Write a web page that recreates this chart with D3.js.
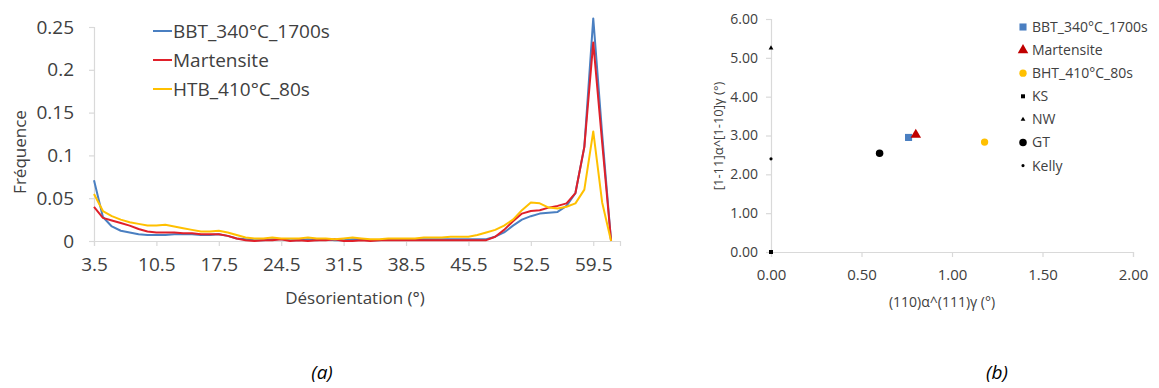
<!DOCTYPE html>
<html><head><meta charset="utf-8">
<script src="https://cdn.jsdelivr.net/npm/d3@7"></script>
<style>body{margin:0;background:#fff}svg{display:block}</style>
</head><body>
<svg id="c" width="1159" height="388"></svg>
<script>
// ---- Chart (a) data ----
const categories = [3.5,4.5,5.5,6.5,7.5,8.5,9.5,10.5,11.5,12.5,13.5,14.5,15.5,16.5,17.5,18.5,19.5,20.5,21.5,22.5,23.5,24.5,25.5,26.5,27.5,28.5,29.5,30.5,31.5,32.5,33.5,34.5,35.5,36.5,37.5,38.5,39.5,40.5,41.5,42.5,43.5,44.5,45.5,46.5,47.5,48.5,49.5,50.5,51.5,52.5,53.5,54.5,55.5,56.5,57.5,58.5,59.5,60.5,61.5];
const xTickLabels = [3.5,10.5,17.5,24.5,31.5,38.5,45.5,52.5,59.5];
const yTicksA = [0,0.05,0.1,0.15,0.2,0.25];
const bbt = [0.071,0.028,0.017,0.012,0.010,0.008,0.007,0.007,0.007,0.008,0.008,0.008,0.007,0.007,0.008,0.006,0.003,0.002,0.001,0.001,0.002,0.002,0.001,0.001,0.002,0.001,0.002,0.001,0.001,0.002,0.002,0.001,0.001,0.002,0.002,0.002,0.002,0.002,0.002,0.002,0.002,0.002,0.002,0.002,0.002,0.005,0.010,0.018,0.025,0.029,0.032,0.033,0.034,0.041,0.056,0.110,0.260,0.125,0];
const mart = [0.040,0.027,0.024,0.021,0.018,0.014,0.011,0.010,0.010,0.010,0.009,0.009,0.008,0.008,0.008,0.006,0.003,0.001,0.000,0.001,0.001,0.002,0.000,0.001,0.000,0.001,0.001,0.002,0.000,0.000,0.001,0.000,0.001,0.001,0.001,0.001,0.001,0.001,0.001,0.001,0.001,0.001,0.001,0.001,0.001,0.005,0.013,0.023,0.032,0.035,0.036,0.039,0.041,0.044,0.056,0.110,0.232,0.115,0];
const htb = [0.055,0.035,0.029,0.025,0.022,0.020,0.018,0.018,0.019,0.017,0.015,0.013,0.011,0.011,0.012,0.010,0.007,0.004,0.003,0.003,0.004,0.003,0.003,0.003,0.004,0.003,0.003,0.002,0.003,0.004,0.003,0.002,0.002,0.003,0.003,0.003,0.003,0.004,0.004,0.004,0.005,0.005,0.005,0.007,0.010,0.013,0.018,0.025,0.036,0.045,0.044,0.039,0.038,0.040,0.044,0.060,0.128,0.045,0];
const seriesNamesA = ["BBT_340°C_1700s","Martensite","HTB_410°C_80s"];
const seriesColorsA = ["#4a7fc1","#e0202a","#ffc000"];

// ---- Chart (b) data ----
const scatterNames = ["BBT_340°C_1700s","Martensite","BHT_410°C_80s","KS","NW","GT","Kelly"];
const scatterX = [0.76,0.80,1.18,0,0,0.60,0];
const scatterY = [2.95,3.02,2.83,0,5.25,2.54,2.40];
const scatterShape = ["square","triangle","circle","square","triangle","circle","circle"];
const scatterSize = [50,48,42,16,10,44,8];
const scatterColors = ["#4a7fc1","#c00000","#ffc000","#000","#000","#000","#000"];
const xTicksB = [0,0.5,1,1.5,2];
const yTicksB = [0,1,2,3,4,5,6];

const svg = d3.select("#c");
const FONT = "'Open Sans', 'Noto Sans', sans-serif";
const axisCol = "#d9d9d9";
const textCol = "#404040";

// ===== Chart (a) =====
const xa = d3.scaleLinear().domain([3.5, 62.5]).range([94, 620]);
const ya = d3.scaleLinear().domain([0, 0.25]).range([241, 27]);
const ga = svg.append("g");

const yAxA = ga.append("g").attr("transform", `translate(${xa(3.5)},0)`)
  .call(d3.axisLeft(ya).tickValues(yTicksA).tickSize(5).tickPadding(15).tickFormat(d => String(+d.toFixed(2))));
const xAxA = ga.append("g").attr("transform", `translate(0,${ya(0)})`)
  .call(d3.axisBottom(xa).tickValues(xTickLabels).tickSize(5).tickPadding(12).tickFormat(d => d.toFixed(1)));
[yAxA, xAxA].forEach(a => {
  a.select(".domain").attr("stroke", axisCol).attr("stroke-width", 1.2);
  a.selectAll(".tick line").attr("stroke", axisCol).attr("stroke-width", 1.2);
  a.selectAll("text").attr("font-family", FONT).attr("font-size", 19).attr("fill", textCol);
});

const lineA = d3.line().x((d, i) => xa(categories[i])).y(d => ya(d));
[bbt, mart, htb].forEach((s, k) => {
  ga.append("path").datum(s).attr("d", lineA).attr("fill", "none")
    .attr("stroke", seriesColorsA[k]).attr("stroke-width", 2).attr("stroke-linejoin", "round");
});

seriesNamesA.forEach((n, i) => {
  const y = 31 + i * 29;
  ga.append("line").attr("x1", 153).attr("x2", 172).attr("y1", y).attr("y2", y)
    .attr("stroke", seriesColorsA[i]).attr("stroke-width", 2);
  ga.append("text").attr("x", 173).attr("y", y).attr("dy", "0.35em")
    .attr("font-family", FONT).attr("font-size", 19).attr("fill", textCol).text(n);
});
ga.append("text").attr("x", 355).attr("y", 298).attr("dy", "0.35em").attr("text-anchor", "middle")
  .attr("font-family", FONT).attr("font-size", 17).attr("fill", textCol).text("Désorientation (°)");
ga.append("text").attr("transform", "translate(20,152) rotate(-90)").attr("dy", "0.35em").attr("text-anchor", "middle")
  .attr("font-family", FONT).attr("font-size", 17).attr("fill", textCol).text("Fréquence");

// ===== Chart (b) =====
const xb = d3.scaleLinear().domain([0, 2]).range([771, 1133]);
const yb = d3.scaleLinear().domain([0, 6]).range([252, 19]);
const gb = svg.append("g");
const yAxB = gb.append("g").attr("transform", `translate(${xb(0)},0)`)
  .call(d3.axisLeft(yb).tickValues(yTicksB).tickSize(5).tickPadding(8).tickFormat(d3.format(".2f")));
const xAxB = gb.append("g").attr("transform", `translate(0,${yb(0)})`)
  .call(d3.axisBottom(xb).tickValues(xTicksB).tickSize(5).tickPadding(12).tickFormat(d3.format(".2f")));
[yAxB, xAxB].forEach(a => {
  a.select(".domain").attr("stroke", axisCol).attr("stroke-width", 1.2);
  a.selectAll(".tick line").attr("stroke", axisCol).attr("stroke-width", 1.2);
  a.selectAll("text").attr("font-family", FONT).attr("fill", textCol);
});
yAxB.selectAll("text").attr("font-size", 14);
xAxB.selectAll("text").attr("font-size", 15);
const shapeOf = s => s === "square" ? d3.symbolSquare : s === "triangle" ? d3.symbolTriangle : d3.symbolCircle;
scatterNames.forEach((n, i) => {
  gb.append("path").attr("d", d3.symbol(shapeOf(scatterShape[i]), scatterSize[i])())
    .attr("transform", `translate(${xb(scatterX[i])},${yb(scatterY[i])})`)
    .attr("fill", scatterColors[i]);
  const ly = 27 + i * 23.1;
  gb.append("path").attr("d", d3.symbol(shapeOf(scatterShape[i]), scatterSize[i])())
    .attr("transform", `translate(1023,${ly})`).attr("fill", scatterColors[i]);
  gb.append("text").attr("x", 1032).attr("y", ly).attr("dy", "0.35em")
    .attr("font-family", FONT).attr("font-size", 14).attr("fill", textCol).text(n);
});
gb.append("text").attr("x", 942).attr("y", 302).attr("dy", "0.35em").attr("text-anchor", "middle")
  .attr("font-family", FONT).attr("font-size", 14).attr("fill", textCol).text("(110)α^(111)γ (°)");
gb.append("text").attr("transform", "translate(718,136) rotate(-90)").attr("dy", "0.35em").attr("text-anchor", "middle")
  .attr("font-family", FONT).attr("font-size", 13).attr("fill", textCol).text("[1-11]α^[1-10]γ (°)");

svg.append("text").attr("x", 322).attr("y", 372).attr("dy", "0.35em").attr("text-anchor", "middle")
  .attr("font-family", FONT).attr("font-size", 19).attr("font-style", "italic").attr("fill", "#000").text("(a)");
svg.append("text").attr("x", 997).attr("y", 372).attr("dy", "0.35em").attr("text-anchor", "middle")
  .attr("font-family", FONT).attr("font-size", 19).attr("font-style", "italic").attr("fill", "#000").text("(b)");
</script>
</body></html>
